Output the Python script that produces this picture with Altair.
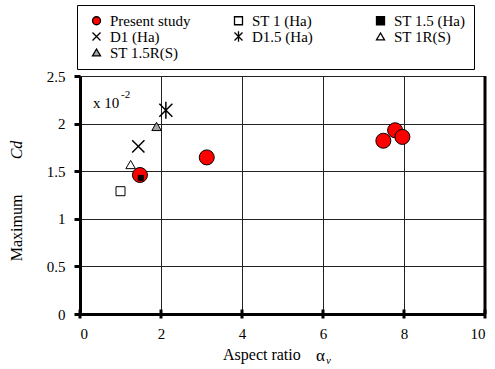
import altair as alt
import pandas as pd

# ---- data ----
series_names = ["Present study", "ST 1 (Ha)", "ST 1.5 (Ha)", "D1 (Ha)", "D1.5 (Ha)", "ST 1R(S)", "ST 1.5R(S)"]

present_x = [7.78, 1.48, 3.13, 7.49, 7.96]
present_y = [1.93, 1.46, 1.645, 1.82, 1.86]
st1_x, st1_y = [1.0], [1.29]
st15_x, st15_y = [1.5], [1.43]
d1_x, d1_y = [1.44], [1.76]
d15_x, d15_y = [2.12], [2.14]
st1r_x, st1r_y = [1.25], [1.57]
st15r_x, st15r_y = [1.89], [1.97]

x_ticks = [0, 2, 4, 6, 8, 10]
y_ticks = [0, 0.5, 1, 1.5, 2, 2.5]

xs = [present_x, st1_x, st15_x, d1_x, d15_x, st1r_x, st15r_x]
ys = [present_y, st1_y, st15_y, d1_y, d15_y, st1r_y, st15r_y]
sizes = [225, 81, 25, 150, 170, 90, 90]
widths = [1, 1, 1, 1.5, 1.5, 1, 1]

rows = []
for name, xv, yv, s, w in zip(series_names, xs, ys, sizes, widths):
    for a, b in zip(xv, yv):
        rows.append({"series": name, "ar": a, "cd": b, "sz": s, "sw": w})
df = pd.DataFrame(rows)

cross = "M-1,-1L1,1M-1,1L1,-1"
aster = "M-1,-1L1,1M-1,1L1,-1M0,-1.3L0,1.3"
shapes = ["circle", "square", "square", cross, aster, "triangle-up", "triangle-up"]
fills = ["#ff0000", "white", "black", "transparent", "transparent", "white", "#a6a6a6"]

FONT = "Liberation Serif"

xscale = alt.Scale(domain=[0, 10], nice=False, padding=0, zero=False)
yscale = alt.Scale(domain=[0, 2.5], nice=False, padding=0)

x_axis = alt.Axis(values=x_ticks, title=None, grid=True, gridColor="#222", gridWidth=1,
                  domainWidth=3, domainColor="black", tickSize=0, labelPadding=12,
                  labelFont=FONT, labelFontSize=15, labelColor="black")
y_axis = alt.Axis(values=y_ticks, title=None, grid=True, gridColor="#222", gridWidth=1,
                  domainWidth=3, domainColor="black", tickSize=6, tickWidth=3, tickColor="black",
                  labelPadding=9, labelFont=FONT, labelFontSize=15, labelColor="black",
                  labelExpr="format(datum.value, '~g')")

leg = alt.Legend(title=None, orient="none", legendX=-3, legendY=-71, columns=3, gridAlign="all",
                 direction="horizontal",
                 columnPadding=36, rowPadding=-3, padding=8, strokeColor="black",
                 fillColor="white", labelFont=FONT, labelFontSize=15, labelColor="black",
                 symbolSize=64, symbolStrokeWidth=1.3, labelOffset=6, symbolOffset=4, labelLimit=300,
                 values=series_names)

points = alt.Chart(df).mark_point(opacity=1).encode(
    x=alt.X("ar:Q", scale=xscale, axis=x_axis),
    y=alt.Y("cd:Q", scale=yscale, axis=y_axis),
    shape=alt.Shape("series:N", sort=series_names, scale=alt.Scale(domain=series_names, range=shapes), legend=leg),
    fill=alt.Fill("series:N", sort=series_names, scale=alt.Scale(domain=series_names, range=fills), legend=leg),
    stroke=alt.Stroke("series:N", sort=series_names, scale=alt.Scale(domain=series_names, range=["black"] * 7), legend=leg),
    size=alt.Size("sz:Q", scale=None, legend=None),
    strokeWidth=alt.StrokeWidth("sw:Q", scale=None, legend=None),
)

tick_df = pd.DataFrame({"ar": x_ticks})
xticks = alt.Chart(tick_df).mark_tick(orient="vertical", size=9, thickness=3, color="black", opacity=1).encode(
    x=alt.X("ar:Q", scale=xscale, axis=x_axis), y=alt.value(238)
)

one = pd.DataFrame({"k": [0]})
right_rule = alt.Chart(one).mark_rule(color="black", strokeWidth=3).encode(
    x=alt.value(405), y=alt.value(0), y2=alt.value(238)
)

txt = dict(font=FONT, color="black", fontWeight="normal")
def label(text, x, y, size, **kw):
    return alt.Chart(one).mark_text(text=text, fontSize=size, **txt, **kw).encode(
        x=alt.value(x), y=alt.value(y))

note1 = label("x 10", 13, 32, 15, align="left", baseline="alphabetic")
note2 = label("-2", 41, 22, 11, align="left", baseline="alphabetic")
xt1 = label("Aspect ratio", 143, 284, 16, align="left", baseline="alphabetic")
xt2 = label("α", 236, 285, 17, align="left", baseline="alphabetic")
xt3 = label("v", 246, 288, 11, align="left", baseline="alphabetic", fontStyle="italic")
yt1 = label("Maximum", -63, 152, 16, align="center", baseline="middle", angle=270)
yt2 = label("Cd", -63, 74, 16, align="center", baseline="middle", angle=270, fontStyle="italic")

chart = alt.layer(
    points, xticks, right_rule, note1, note2, xt1, xt2, xt3, yt1, yt2
).properties(
    width=405, height=238,
    autosize=alt.AutoSizeParams(type="none"),
    padding={"left": 80, "top": 76, "right": 10, "bottom": 55},
).configure_view(
    stroke="black", strokeWidth=2
).configure_axis(
    labelFont=FONT
).configure(background="white", font=FONT)

chart.save("out.html", embed_options={"renderer": "svg", "actions": False})
